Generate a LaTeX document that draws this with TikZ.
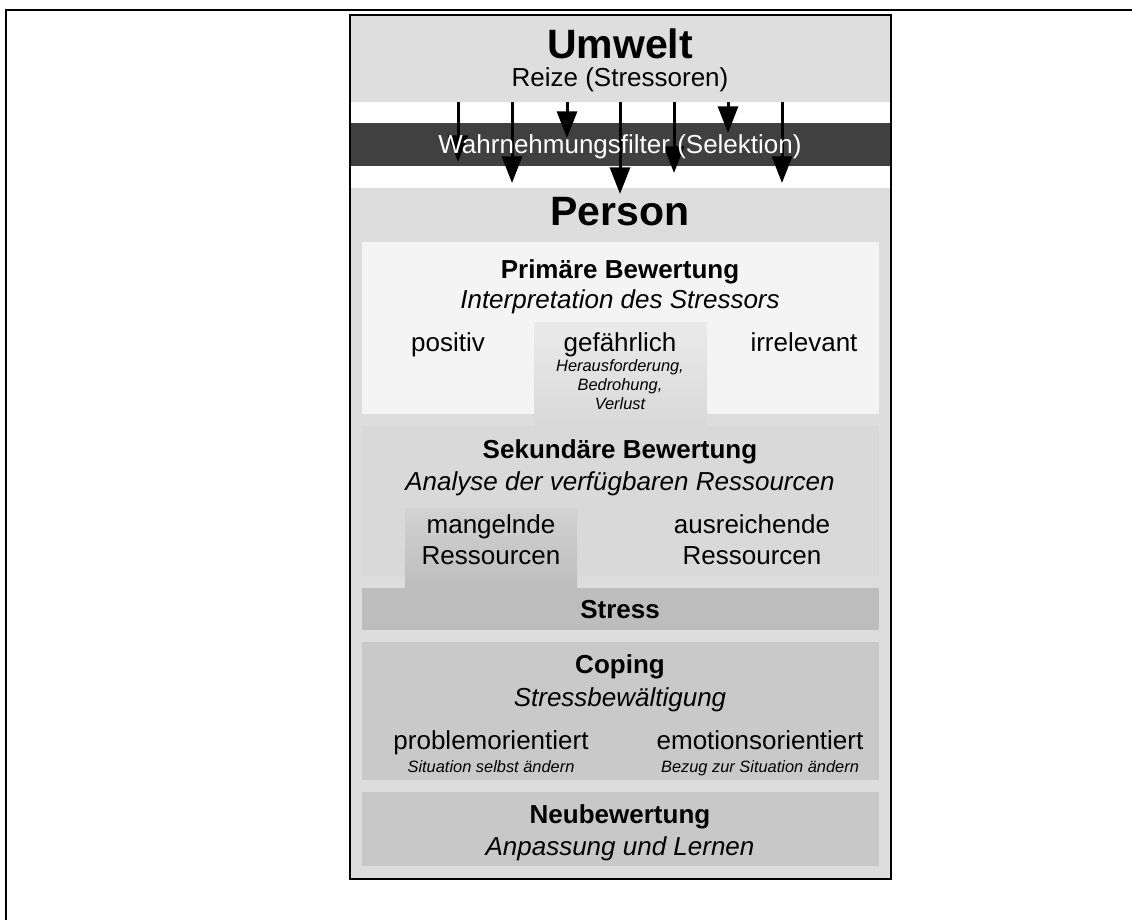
\documentclass[tikz,border=0pt]{standalone}
\usepackage{fontspec}
\setmainfont{Liberation Sans}
\usetikzlibrary{arrows.meta}
\definecolor{panelbg}{HTML}{DDDDDD}
\definecolor{envbg}{HTML}{DEDEDE}
\definecolor{filterbg}{HTML}{404040}
\definecolor{primbg}{HTML}{F4F4F4}
\definecolor{sekbg}{HTML}{D9D9D9}
\definecolor{stressbg}{HTML}{BDBDBD}
\definecolor{copebg}{HTML}{C9C9C9}
\definecolor{neubg}{HTML}{C8C8C8}
\begin{document}
\begin{tikzpicture}[x=0.75pt,y=-0.75pt,
  txt/.style={anchor=base, inner sep=0pt, font=\fontsize{19.5}{23}\selectfont},
  head/.style={txt, font=\bfseries\fontsize{19.5}{23}\selectfont},
  sub/.style={txt, font=\itshape\fontsize{19.5}{23}\selectfont},
  title/.style={txt, font=\bfseries\fontsize{30.75}{36}\selectfont},
  note/.style={txt, font=\itshape\fontsize{12.3}{15}\selectfont},
  stimulus/.style={line width=2.25pt, -{Triangle[width=15pt,length=20pt]}}]
\useasboundingbox (0,0) rectangle (1132,920);
% page frame
\draw[line width=1.5pt] (6,920) -- (6,10) -- (1132,10);

% main panel
\fill[panelbg] (350,15) rectangle (891,879);
\fill[envbg] (350,15) rectangle (891,102);
\fill[white] (350,102) rectangle (891,188);
\fill[filterbg] (350,123) rectangle (891,166);

% appraisal panels
\fill[primbg] (362,242) rectangle (879,414);
\fill[sekbg] (362,426) rectangle (879,576);
\fill[top color=primbg!96!black, bottom color=sekbg] (534,322) rectangle (707,426);
\fill[stressbg] (362,588) rectangle (879,630);
\fill[top color=sekbg!97!black, bottom color=stressbg] (405,508) rectangle (577,588);
\fill[copebg] (362,642) rectangle (879,780);
\fill[neubg] (362,792) rectangle (879,866);

% environment
\node[title] (umwelt) at (620,59) {Umwelt};
\node[txt] (reize) at (620,87) {Reize (Stressoren)};

% stimuli passing the perception filter
\foreach \i/\x/\y in {1/458/162, 2/512/183, 3/567/138, 4/620/194, 5/674/173, 6/728/133, 7/782/183} {
  \coordinate (s\i) at (\x,102);
  \coordinate (e\i) at (\x,\y);
  \draw[stimulus] (s\i) -- (e\i);
}
\node[txt, text=white] (filter) at (620,154) {Wahrnehmungsfilter (Selektion)};

% person
\node[title] (person) at (620,225) {Person};

\node[head] (prim) at (620,278) {Primäre Bewertung};
\node[sub] (primsub) at (620,308) {Interpretation des Stressors};
\node[txt] (positiv) at (448,351) {positiv};
\node[txt] (gefahr) at (620,351) {gefährlich};
\node[note] (gefahr1) at (620,371) {Herausforderung,};
\node[note] (gefahr2) at (620,390) {Bedrohung,};
\node[note] (gefahr3) at (620,409) {Verlust};
\node[txt] (irrel) at (804,351) {irrelevant};

\node[head] (sek) at (620,458) {Sekundäre Bewertung};
\node[sub] (seksub) at (620,490) {Analyse der verfügbaren Ressourcen};
\node[txt] (mangel1) at (491,533) {mangelnde};
\node[txt] (mangel2) at (491,564) {Ressourcen};
\node[txt] (ausr1) at (752,533) {ausreichende};
\node[txt] (ausr2) at (752,564) {Ressourcen};

\node[head] (stress) at (620,618) {Stress};

\node[head] (coping) at (620,673) {Coping};
\node[sub] (copingsub) at (620,706) {Stressbewältigung};
\node[txt] (problem) at (491,749) {problemorientiert};
\node[note] (problemsub) at (491,772) {Situation selbst ändern};
\node[txt] (emotion) at (760,749) {emotionsorientiert};
\node[note] (emotionsub) at (760,772) {Bezug zur Situation ändern};

\node[head] (neu) at (620,823) {Neubewertung};
\node[sub] (neusub) at (620,855) {Anpassung und Lernen};

% panel outline
\draw[line width=1.5pt] (350,15) rectangle (891,879);
\end{tikzpicture}
\end{document}
